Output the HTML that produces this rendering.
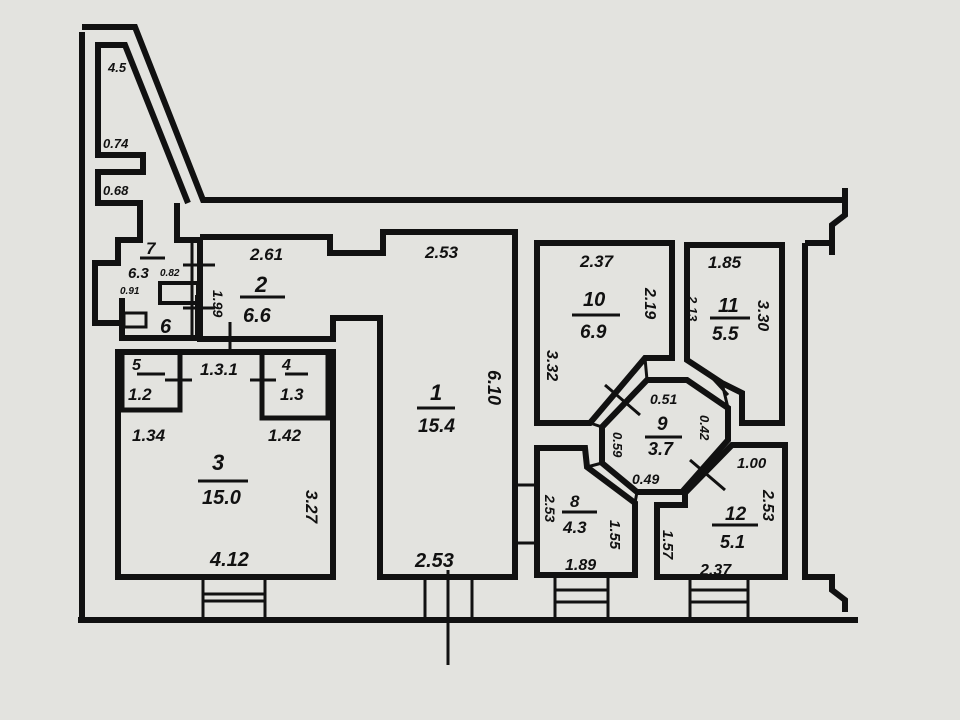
<!DOCTYPE html>
<html><head><meta charset="utf-8"><style>
body{margin:0;background:#e2e2de;}
svg{display:block}
text{font-family:"Liberation Sans",sans-serif;font-style:italic;fill:#111;font-weight:600}
</style></head><body>
<svg width="960" height="720" viewBox="0 0 960 720">
<rect width="960" height="720" fill="#e3e3df"/>
<g fill="none" stroke="#111" stroke-width="6" stroke-linejoin="miter">
<polyline points="82,32 82,620"/>
<polyline points="82,27 135,27 203,200 845,200"/>
<polyline points="78,620 858,620"/>
<polyline points="845,188 845,215 832,225 832,255"/>
<polyline points="805,243 832,243"/>
<polyline points="805,243 805,577 832,577 832,590 845,600 845,612"/>
<polyline points="188,203 125,45 98,45 98,155 143,155 143,172 98,172 98,203 140,203 140,240 118,240 118,263 95,263 95,323 122,323"/>
<polyline points="177,203 177,240 198,240"/>
<polyline points="122,298 122,338 198,338 198,295"/>
<rect x="160" y="283" width="38" height="20" stroke-width="4"/>
<rect x="124" y="313" width="22" height="14" stroke-width="3"/>
<polyline points="200,237 330,237 330,253 383,253 383,232 515,232 515,577 380,577 380,318 333,318 333,339 200,339 200,237"/>
<rect x="118" y="352" width="215" height="225"/>
<rect x="122" y="352" width="58" height="58" stroke-width="5"/>
<rect x="262" y="352" width="66" height="66" stroke-width="5"/>
<polygon points="537,243 672,243 672,358 645,358 590,423 537,423"/>
<polygon points="687,245 782,245 782,423 742,423 742,393 722,383 687,360"/>
<polygon points="647,380 687,380 728,408 728,440 682,492 637,492 602,463 602,427"/>
<polygon points="537,448 585,448 587,467 635,503 635,575 537,575"/>
<polygon points="732,445 785,445 785,577 657,577 657,505 685,505 685,493"/>
</g>
<g fill="none" stroke="#111" stroke-width="3">
<line x1="590" y1="423" x2="602" y2="427"/><line x1="645" y1="358" x2="647" y2="380"/>
<line x1="722" y1="383" x2="728" y2="408"/><line x1="587" y1="467" x2="602" y2="463"/>
<line x1="635" y1="503" x2="637" y2="492"/><line x1="685" y1="493" x2="682" y2="492"/>
<line x1="605" y1="385" x2="640" y2="415"/><line x1="705" y1="370" x2="728" y2="395"/>
<line x1="690" y1="460" x2="725" y2="490"/>
<polyline points="203,580 203,618"/><polyline points="265,580 265,618"/>
<line x1="203" y1="594" x2="265" y2="594"/><line x1="203" y1="601" x2="265" y2="601"/>
<line x1="425" y1="577" x2="425" y2="620"/><line x1="472" y1="577" x2="472" y2="620"/>
<line x1="448" y1="570" x2="448" y2="665"/>
<polyline points="555,578 555,618"/><polyline points="608,578 608,618"/>
<line x1="555" y1="590" x2="608" y2="590"/><line x1="555" y1="602" x2="608" y2="602"/>
<polyline points="690,578 690,618"/><polyline points="748,578 748,618"/>
<line x1="690" y1="590" x2="748" y2="590"/><line x1="690" y1="602" x2="748" y2="602"/>
<line x1="517" y1="485" x2="535" y2="485"/><line x1="517" y1="543" x2="535" y2="543"/>
<line x1="165" y1="380" x2="192" y2="380"/><line x1="250" y1="380" x2="276" y2="380"/>
<line x1="183" y1="265" x2="215" y2="265"/><line x1="183" y1="308" x2="215" y2="308"/>
<line x1="230" y1="322" x2="230" y2="352"/>
<line x1="192" y1="240" x2="192" y2="338"/>
<line x1="137" y1="374" x2="165" y2="374"/><line x1="285" y1="374" x2="308" y2="374"/>
<line x1="198" y1="481" x2="248" y2="481"/><line x1="417" y1="408" x2="455" y2="408"/>
<line x1="240" y1="297" x2="285" y2="297"/><line x1="140" y1="258" x2="165" y2="258"/>
<line x1="572" y1="315" x2="620" y2="315"/><line x1="710" y1="318" x2="750" y2="318"/>
<line x1="645" y1="437" x2="682" y2="437"/><line x1="562" y1="512" x2="597" y2="512"/>
<line x1="712" y1="525" x2="758" y2="525"/>
</g>
<g font-size="17">
<text x="108" y="72" font-size="13">4.5</text>
<text x="103" y="148" font-size="13">0.74</text>
<text x="103" y="195" font-size="13">0.68</text>
<text x="146" y="254">7</text><text x="128" y="278" font-size="15">6.3</text>
<text x="160" y="276" font-size="10">0.82</text><text x="120" y="294" font-size="10">0.91</text>
<text x="160" y="333" font-size="20">6</text>
<text x="250" y="260">2.61</text><text x="255" y="292" font-size="22">2</text><text x="243" y="322" font-size="20">6.6</text>
<text x="213" y="290" font-size="14" transform="rotate(90 213 290)">1.99</text>
<text x="425" y="258">2.53</text>
<text x="430" y="400" font-size="22">1</text><text x="418" y="432" font-size="19">15.4</text>
<text x="488" y="370" font-size="18" transform="rotate(90 488 370)">6.10</text>
<text x="415" y="567" font-size="20">2.53</text>
<text x="132" y="370" font-size="16">5</text><text x="128" y="400" font-size="17">1.2</text>
<text x="200" y="375">1.3.1</text>
<text x="282" y="370" font-size="16">4</text><text x="280" y="400" font-size="17">1.3</text>
<text x="132" y="441">1.34</text><text x="268" y="441">1.42</text>
<text x="212" y="470" font-size="22">3</text><text x="202" y="504" font-size="20">15.0</text>
<text x="306" y="490" font-size="17" transform="rotate(90 306 490)">3.27</text>
<text x="210" y="566" font-size="20">4.12</text>
<text x="580" y="267">2.37</text><text x="583" y="306" font-size="20">10</text><text x="580" y="338" font-size="19">6.9</text>
<text x="645" y="288" font-size="16" transform="rotate(90 645 288)">2.19</text>
<text x="547" y="350" font-size="16" transform="rotate(90 547 350)">3.32</text>
<text x="708" y="268">1.85</text><text x="718" y="312" font-size="20">11</text><text x="712" y="340" font-size="19">5.5</text>
<text x="758" y="300" font-size="16" transform="rotate(90 758 300)">3.30</text>
<text x="688" y="296" font-size="13" transform="rotate(90 688 296)">2.13</text>
<text x="650" y="404" font-size="14">0.51</text><text x="657" y="430" font-size="19">9</text><text x="648" y="455" font-size="18">3.7</text>
<text x="632" y="484" font-size="14">0.49</text>
<text x="700" y="415" font-size="13" transform="rotate(90 700 415)">0.42</text>
<text x="613" y="432" font-size="13" transform="rotate(90 613 432)">0.59</text>
<text x="737" y="468" font-size="15">1.00</text>
<text x="763" y="490" font-size="16" transform="rotate(90 763 490)">2.53</text>
<text x="725" y="520" font-size="19">12</text><text x="720" y="548" font-size="18">5.1</text>
<text x="700" y="575" font-size="16">2.37</text>
<text x="663" y="530" font-size="15" transform="rotate(90 663 530)">1.57</text>
<text x="570" y="507" font-size="17">8</text><text x="563" y="533" font-size="17">4.3</text>
<text x="545" y="495" font-size="14" transform="rotate(90 545 495)">2.53</text>
<text x="610" y="520" font-size="15" transform="rotate(90 610 520)">1.55</text>
<text x="565" y="570" font-size="16">1.89</text>
</g>
</svg>
</body></html>
